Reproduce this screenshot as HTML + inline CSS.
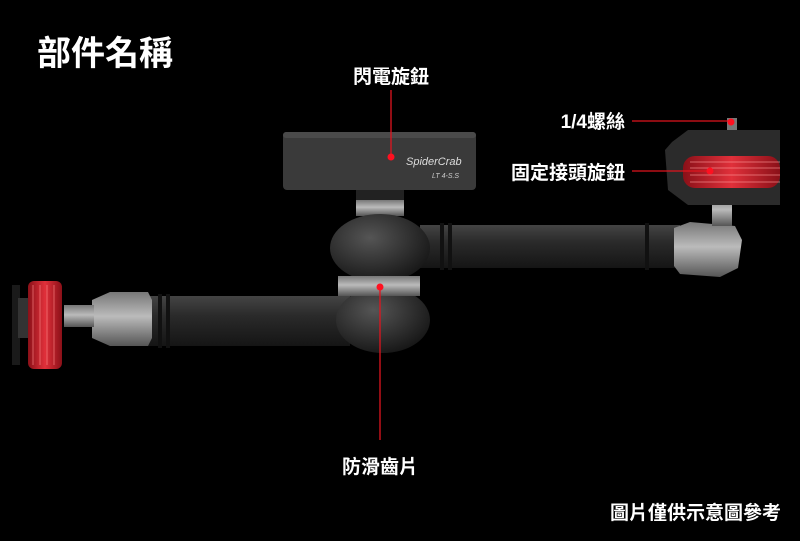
<!DOCTYPE html>
<html><head><meta charset="utf-8"><style>
body{margin:0;background:#000;width:800px;height:536px;overflow:hidden}
svg text{font-family:"Liberation Sans","Noto Sans CJK TC",sans-serif;fill:#fff}
</style></head><body>
<svg width="800" height="536" viewBox="0 0 800 536" xmlns="http://www.w3.org/2000/svg">
<defs>
<linearGradient id="arm" x1="0" y1="0" x2="0" y2="1"><stop offset="0" stop-color="#444"/><stop offset=".4" stop-color="#2a2a2a"/><stop offset="1" stop-color="#151515"/></linearGradient>
<linearGradient id="met" x1="0" y1="0" x2="0" y2="1"><stop offset="0" stop-color="#777"/><stop offset=".45" stop-color="#bbb"/><stop offset="1" stop-color="#555"/></linearGradient>
<linearGradient id="red" x1="0" y1="0" x2="1" y2="0"><stop offset="0" stop-color="#8a1018"/><stop offset=".5" stop-color="#e0303a"/><stop offset="1" stop-color="#8a1018"/></linearGradient>
<radialGradient id="ball" cx=".4" cy=".35" r=".7"><stop offset="0" stop-color="#555"/><stop offset="1" stop-color="#151515"/></radialGradient>
</defs>
<rect width="800" height="536" fill="#000"/>
<text x="37" y="65" font-size="34" font-weight="bold">部件名稱</text>
<!-- lower arm -->
<rect x="140" y="296" width="210" height="50" fill="url(#arm)"/>
<rect x="158" y="294" width="4" height="54" fill="#111"/><rect x="166" y="294" width="4" height="54" fill="#111"/>
<!-- left cap -->
<path d="M92 300 L110 292 L148 292 L152 300 L152 338 L148 346 L110 346 L92 338Z" fill="url(#met)"/>
<rect x="64" y="305" width="30" height="22" fill="url(#met)"/>
<rect x="12" y="285" width="8" height="80" fill="#1a1a1a"/>
<rect x="18" y="298" width="12" height="40" fill="#333"/>
<rect x="28" y="281" width="34" height="88" rx="6" fill="url(#red)"/>
<g stroke="#ff8a8a" stroke-width="1" opacity=".6"><line x1="33" y1="285" x2="33" y2="365"/><line x1="40" y1="285" x2="40" y2="365"/><line x1="47" y1="285" x2="47" y2="365"/><line x1="54" y1="285" x2="54" y2="365"/></g>
<!-- upper arm -->
<rect x="420" y="225" width="260" height="43" fill="url(#arm)"/>
<rect x="440" y="223" width="4" height="47" fill="#111"/><rect x="448" y="223" width="4" height="47" fill="#111"/>
<rect x="645" y="223" width="4" height="47" fill="#111"/>
<!-- right cap -->
<path d="M674 228 L690 222 L735 226 L742 240 L738 268 L720 277 L680 274 L674 266Z" fill="url(#met)"/>
<rect x="712" y="196" width="20" height="30" fill="url(#met)"/>
<!-- right head -->
<path d="M672 142 L688 130 L780 130 L780 205 L688 205 L668 190 L665 150Z" fill="#2b2b2b"/>
<rect x="683" y="156" width="97" height="32" rx="12" fill="url(#red)"/>
<g stroke="#ff9a9a" stroke-width="1" opacity=".6"><line x1="690" y1="162" x2="780" y2="162"/><line x1="690" y1="168" x2="780" y2="168"/><line x1="690" y1="175" x2="780" y2="175"/><line x1="690" y1="182" x2="780" y2="182"/></g>
<rect x="727" y="118" width="10" height="12" fill="#777"/>
<!-- center -->
<rect x="283" y="132" width="193" height="58" rx="4" fill="#3a3a3a"/>
<rect x="283" y="132" width="193" height="6" rx="3" fill="#4a4a4a"/>
<text x="406" y="165" font-size="11" font-style="italic" style="fill:#ddd">SpiderCrab</text>
<text x="432" y="178" font-size="7" font-style="italic" style="fill:#ccc">LT 4-S.S</text>
<rect x="356" y="190" width="48" height="10" fill="#222"/>
<rect x="356" y="200" width="48" height="16" fill="url(#met)"/>
<ellipse cx="380" cy="248" rx="50" ry="34" fill="url(#ball)"/>
<ellipse cx="383" cy="320" rx="47" ry="33" fill="url(#ball)"/>
<rect x="338" y="276" width="82" height="20" fill="url(#met)"/>
<!-- annotations -->
<g stroke="#e0141e" stroke-width="1.3" fill="none">
<line x1="391" y1="90" x2="391" y2="157"/>
<line x1="380" y1="287" x2="380" y2="440"/>
<line x1="632" y1="121" x2="731" y2="121"/>
<line x1="632" y1="171" x2="710" y2="171"/>
</g>
<g fill="#ff1020"><circle cx="391" cy="157" r="3.5"/><circle cx="380" cy="287" r="3.5"/><circle cx="731" cy="122" r="3.5"/><circle cx="710" cy="171" r="3.5"/></g>
<text x="391" y="83" font-size="19" text-anchor="middle" font-weight="bold">閃電旋鈕</text>
<text x="380" y="473" font-size="19" text-anchor="middle" font-weight="bold">防滑齒片</text>
<text x="625" y="128" font-size="19" text-anchor="end" font-weight="bold">1/4螺絲</text>
<text x="625" y="179" font-size="19" text-anchor="end" font-weight="bold">固定接頭旋鈕</text>
<text x="781" y="519" font-size="19" text-anchor="end" font-weight="bold">圖片僅供示意圖參考</text>
</svg>
</body></html>
